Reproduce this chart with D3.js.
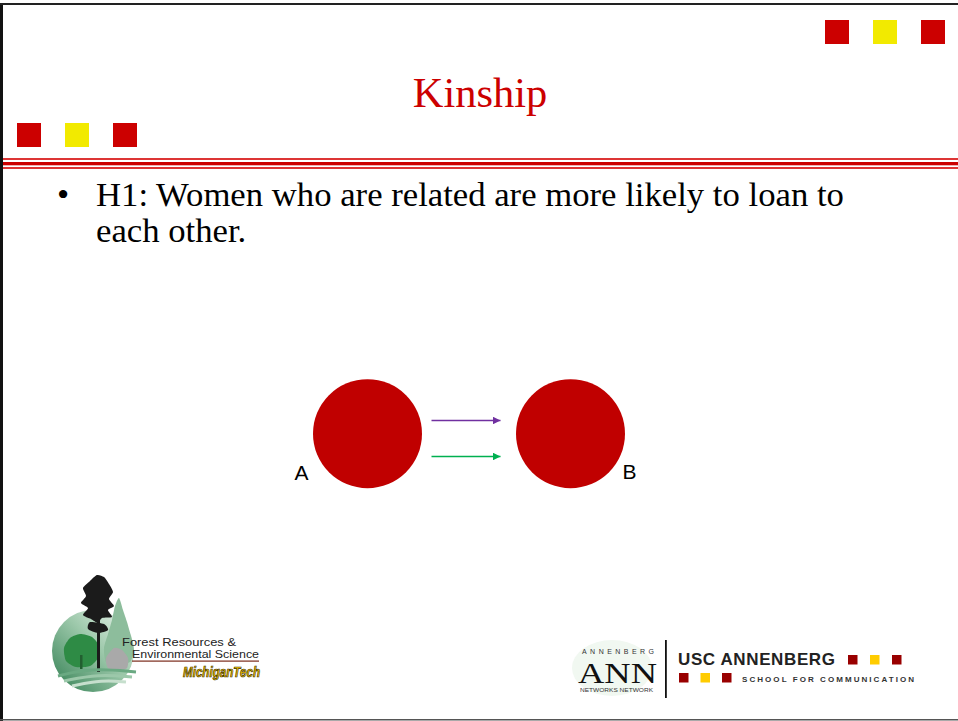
<!DOCTYPE html>
<html>
<head>
<meta charset="utf-8">
<script src="https://cdn.jsdelivr.net/npm/d3@7"></script>
<style>
  html, body { margin: 0; padding: 0; background: #fff; }
  svg { display: block; }
</style>
</head>
<body>
<div id="slide"></div>
<script>
// Kinship slide: two nodes with a kin tie and a loan tie
const width = 958, height = 721;

const titleText = "Kinship";
const bulletLines = ["H1: Women who are related are more likely to loan to", "each other."];
const nodes = ["A", "B"];
const ties = ["related", "loans"];
const squareIdx = [0, 1, 2];

const red = "#cc0000", yellow = "#f2ea00";
const serif = "'Liberation Serif', 'Times New Roman', serif";
const sans = "'Liberation Sans', Arial, sans-serif";

const svg = d3.select("#slide").append("svg")
  .attr("width", width).attr("height", height).attr("viewBox", `0 0 ${width} ${height}`);

const defs = svg.append("defs");

// frame
svg.append("rect").attr("x", 0).attr("y", 3).attr("width", 3).attr("height", 718).attr("fill", "#111");
svg.append("rect").attr("x", 0).attr("y", 3).attr("width", width).attr("height", 2).attr("fill", "#222");
svg.append("rect").attr("x", 0).attr("y", 719).attr("width", width).attr("height", 1.5).attr("fill", "#555");

// header decoration squares
const sqColor = d3.scaleOrdinal(squareIdx, [red, yellow, red]);
const sqRight = d3.scaleLinear().domain([0, 2]).range([825, 921]);
const sqLeft = d3.scaleLinear().domain([0, 2]).range([17, 113]);
svg.append("g").selectAll("rect").data(squareIdx).join("rect")
  .attr("x", d => sqRight(d)).attr("y", 20).attr("width", 24).attr("height", 24).attr("fill", sqColor);
svg.append("g").selectAll("rect").data(squareIdx).join("rect")
  .attr("x", d => sqLeft(d)).attr("y", 123).attr("width", 24).attr("height", 24).attr("fill", sqColor);

// triple rule under the title
svg.append("rect").attr("x", 3).attr("y", 158).attr("width", width).attr("height", 2).attr("fill", "#dd3535");
svg.append("rect").attr("x", 3).attr("y", 162).attr("width", width).attr("height", 3.3).attr("fill", red);
svg.append("rect").attr("x", 3).attr("y", 167).attr("width", width).attr("height", 2).attr("fill", "#dd3535");

svg.append("text").attr("x", 480).attr("y", 107).attr("text-anchor", "middle")
  .attr("font-family", serif).attr("font-size", 42.5).attr("fill", red).text(titleText);

// bullet text
svg.append("text").attr("x", 57).attr("y", 206).attr("font-family", serif).attr("font-size", 34.7)
  .attr("fill", "#000").text("\u2022");
svg.append("g").selectAll("text").data(bulletLines).join("text")
  .attr("x", 96).attr("y", (d, i) => 206 + i * 36)
  .attr("font-family", serif).attr("font-size", 34.7).attr("fill", "#000").text(d => d);

// network diagram
const xNode = d3.scalePoint().domain(nodes).range([367.5, 570.5]);
const yTie = d3.scalePoint().domain(ties).range([420.5, 456.5]);
const tieColor = d3.scaleOrdinal(ties, ["#7030a0", "#00b050"]);
const r = 54.5, cy = 433.7;

ties.forEach(t => {
  defs.append("marker").attr("id", "arrow-" + t).attr("viewBox", "0 0 10 10")
    .attr("refX", 10).attr("refY", 5).attr("markerWidth", 5.5).attr("markerHeight", 5)
    .attr("markerUnits", "strokeWidth").attr("orient", "auto")
    .append("path").attr("d", "M0,0L10,5L0,10Z").attr("fill", tieColor(t));
});

svg.append("g").selectAll("circle").data(nodes).join("circle")
  .attr("cx", d => xNode(d)).attr("cy", cy).attr("r", r).attr("fill", "#c00000");

svg.append("g").selectAll("line").data(ties).join("line")
  .attr("x1", xNode("A") + 64).attr("x2", xNode("B") - 70)
  .attr("y1", d => yTie(d)).attr("y2", d => yTie(d))
  .attr("stroke", d => tieColor(d)).attr("stroke-width", 1.5)
  .attr("marker-end", d => `url(#arrow-${d})`);

svg.append("g").selectAll("text").data(nodes).join("text")
  .attr("x", d => d === "A" ? xNode(d) - 73 : xNode(d) + 52)
  .attr("y", d => d === "A" ? 480 : 479)
  .attr("font-family", sans).attr("font-size", 21).attr("fill", "#000").text(d => d);

// ---- left logo: Forest Resources & Environmental Science, Michigan Tech
const lg = svg.append("g");
const disk = defs.append("linearGradient").attr("id", "diskGrad")
  .attr("x1", "0%").attr("y1", "100%").attr("x2", "100%").attr("y2", "0%");
disk.append("stop").attr("offset", "0%").attr("stop-color", "#2f7d50");
disk.append("stop").attr("offset", "55%").attr("stop-color", "#9cc8aa");
disk.append("stop").attr("offset", "100%").attr("stop-color", "#f2f8f3");
lg.append("circle").attr("cx", 93).attr("cy", 651).attr("r", 41).attr("fill", "url(#diskGrad)");

const blob = d3.line().curve(d3.curveCardinalClosed.tension(0.3));
// pale pine behind
lg.append("path").attr("fill", "#8dbd9c")
  .attr("d", blob([[119, 598], [123, 610], [127, 622], [131, 636], [134, 650], [130, 662], [118, 664], [106, 662], [104, 648], [108, 634], [112, 620], [115, 606]]));
// grey tree
lg.append("path").attr("fill", "#a9a9a9")
  .attr("d", blob([[114, 648], [122, 650], [128, 658], [127, 668], [118, 671], [108, 668], [106, 658]]));
// green deciduous tree
lg.append("path").attr("fill", "#2e8b45")
  .attr("d", blob([[80, 634], [92, 637], [99, 646], [98, 658], [90, 666], [76, 667], [66, 661], [64, 648], [70, 638]]));
lg.append("rect").attr("x", 80).attr("y", 655).attr("width", 2.5).attr("height", 14).attr("fill", "#225f30");
// dark pine
lg.append("path").attr("fill", "#1b1b1b")
  .attr("d", blob([[97, 575], [104, 577], [109, 584], [113, 592], [109, 599], [114, 606], [108, 610], [112, 617], [102, 618], [98, 623], [91, 619], [83, 615], [88, 608], [81, 603], [86, 596], [83, 588], [90, 581]]));
lg.append("path").attr("fill", "#1b1b1b")
  .attr("d", blob([[90, 622], [104, 624], [108, 630], [98, 633], [88, 629]]));
lg.append("rect").attr("x", 97).attr("y", 590).attr("width", 3).attr("height", 82).attr("fill", "#1b1b1b");
// ground swooshes
const ground = d3.line().curve(d3.curveBasis);
[[[58, 676], [90, 668], [136, 672]], [[64, 681], [98, 674], [132, 677]], [[72, 686], [102, 680], [126, 682]]]
  .forEach((pts, i) => lg.append("path").attr("d", ground(pts)).attr("fill", "none")
    .attr("stroke", ["#6aa982", "#9cc8aa", "#c6dfcd"][i]).attr("stroke-width", 3));

lg.append("text").attr("x", 122).attr("y", 646).attr("font-family", sans).attr("font-size", 10.5)
  .attr("textLength", 114).attr("lengthAdjust", "spacingAndGlyphs").attr("fill", "#222").text("Forest Resources &");
lg.append("text").attr("x", 132).attr("y", 658).attr("font-family", sans).attr("font-size", 10.5)
  .attr("textLength", 127).attr("lengthAdjust", "spacingAndGlyphs").attr("fill", "#222").text("Environmental Science");
lg.append("rect").attr("x", 132).attr("y", 660.5).attr("width", 127).attr("height", 1.2).attr("fill", "#7a2a1a");
lg.append("text").attr("x", 183).attr("y", 676.5).attr("font-family", sans).attr("font-size", 14)
  .attr("font-weight", "bold").attr("font-style", "italic").attr("textLength", 77)
  .attr("lengthAdjust", "spacingAndGlyphs").attr("fill", "#f2c200")
  .attr("stroke", "#3a3000").attr("stroke-width", 0.7).text("MichiganTech");

// ---- right logo: Annenberg Networks Network / USC Annenberg
const rg = svg.append("g");
rg.append("ellipse").attr("cx", 612).attr("cy", 668).attr("rx", 40).attr("ry", 28).attr("fill", "#f1f8f1");
rg.append("text").attr("x", 582).attr("y", 654).attr("font-family", sans).attr("font-size", 7)
  .attr("textLength", 72).attr("fill", "#333").text("ANNENBERG");
rg.append("text").attr("x", 578).attr("y", 682.5).attr("font-family", serif).attr("font-size", 30)
  .attr("textLength", 79).attr("lengthAdjust", "spacingAndGlyphs").attr("fill", "#111").text("ANN");
rg.append("text").attr("x", 580).attr("y", 692).attr("font-family", sans).attr("font-size", 6)
  .attr("textLength", 73).attr("lengthAdjust", "spacingAndGlyphs").attr("fill", "#333").text("NETWORKS NETWORK");
rg.append("rect").attr("x", 665).attr("y", 640).attr("width", 1.8).attr("height", 58).attr("fill", "#111");

rg.append("text").attr("x", 678).attr("y", 665).attr("font-family", sans).attr("font-size", 17)
  .attr("font-weight", "bold").attr("textLength", 157).attr("fill", "#222").text("USC ANNENBERG");
rg.append("text").attr("x", 742).attr("y", 681.5).attr("font-family", sans).attr("font-size", 8)
  .attr("font-weight", "bold").attr("textLength", 172).attr("fill", "#333").text("SCHOOL FOR COMMUNICATION");
const uscColor = d3.scaleOrdinal(squareIdx, ["#990000", "#ffcc00", "#990000"]);
const uscTop = d3.scaleLinear().domain([0, 2]).range([848, 892]);
const uscBot = d3.scaleLinear().domain([0, 2]).range([679, 722]);
rg.append("g").selectAll("rect").data(squareIdx).join("rect")
  .attr("x", d => uscTop(d)).attr("y", 655).attr("width", 9.5).attr("height", 9.5).attr("fill", uscColor);
rg.append("g").selectAll("rect").data(squareIdx).join("rect")
  .attr("x", d => uscBot(d)).attr("y", 673).attr("width", 9.5).attr("height", 9.5).attr("fill", uscColor);
</script>
</body>
</html>
